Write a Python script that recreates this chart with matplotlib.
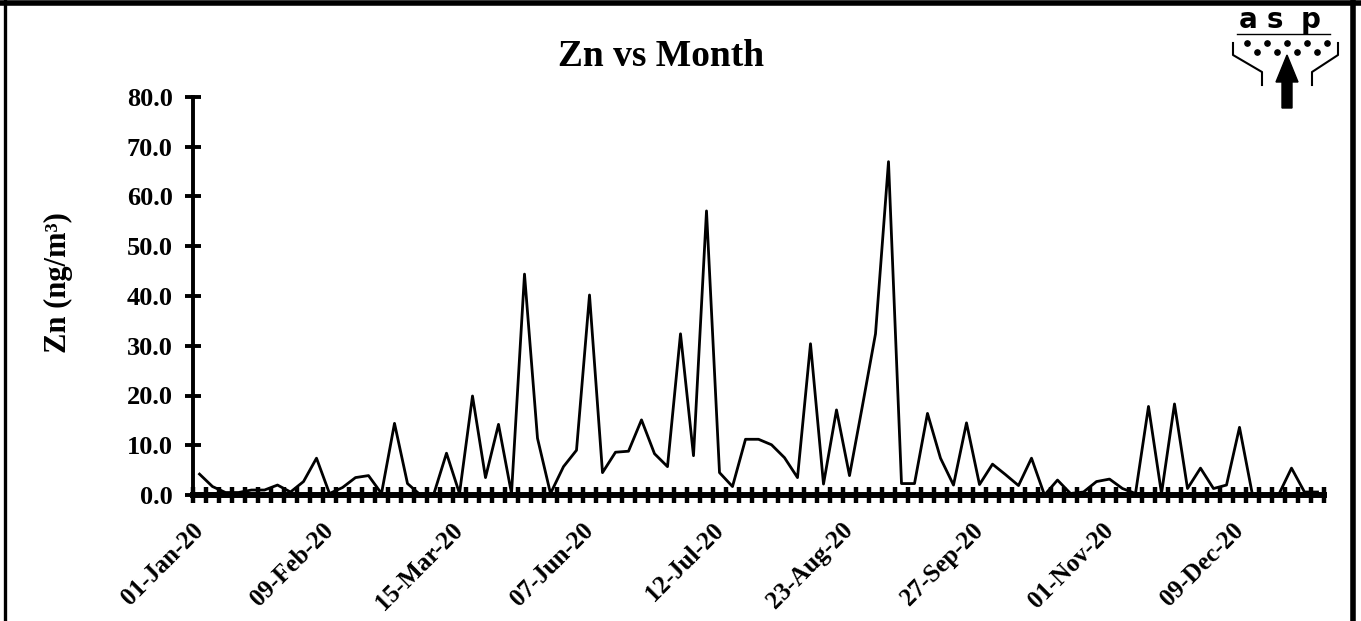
import numpy as np
import matplotlib.pyplot as plt
from matplotlib.lines import Line2D
from matplotlib.patches import Polygon

# Zn concentration (ng/m3), one value per sampling day
zn = [4.2, 1.7, 0.5, 0.5, 1.0, 1.0, 2.0, 0.6, 2.7, 7.4,
      0.3, 1.5, 3.5, 3.9, 0.3, 14.4, 2.3, 0.0, 0.0, 8.4,
      0.3, 19.9, 3.5, 14.2, 0.3, 44.4, 11.4, 0.3, 5.7, 9.0,
      40.2, 4.5, 8.6, 8.8, 15.1, 8.3, 5.7, 32.4, 7.9, 57.1,
      4.5, 1.7, 11.2, 11.2, 10.1, 7.5, 3.5, 30.4, 2.2, 17.1,
      3.9, 18.0, 32.4, 67.0, 2.3, 2.3, 16.4, 7.4, 2.0, 14.5,
      2.1, 6.2, 4.1, 1.9, 7.4, 0.0, 3.0, 0.3, 0.6, 2.7,
      3.2, 1.3, 0.3, 17.8, 0.3, 18.3, 1.3, 5.4, 1.3, 2.0,
      13.6, 0.0, 0.0, 0.0, 5.4, 0.6, 0.6]

# only every 10th sample date is labelled
date_labels = ['01-Jan-20', '09-Feb-20', '15-Mar-20', '07-Jun-20', '12-Jul-20',
               '23-Aug-20', '27-Sep-20', '01-Nov-20', '09-Dec-20']
label_step = 10
y_ticks = [0, 10, 20, 30, 40, 50, 60, 70, 80]

plt.rcParams['font.family'] = ['Liberation Serif', 'DejaVu Serif']
plt.rcParams['font.weight'] = 'bold'

W, H = 1361, 621
fig = plt.figure(figsize=(W / 100, H / 100), dpi=100)

def fx(px):
    return px / W

def fy(py):
    return 1 - py / H

ax = fig.add_axes([fx(193), fy(495), (1324 - 193) / W, (495 - 97) / H])

x = np.arange(len(zn))
ax.plot(x, zn, color='black', lw=2.0, zorder=2, clip_on=False)

ax.set_xlim(-0.5, len(zn) - 0.5)
ax.set_ylim(0, 80)
for s in ['top', 'right']:
    ax.spines[s].set_visible(False)
ax.spines['left'].set_linewidth(2.8)
ax.spines['bottom'].set_linewidth(4.3)
ax.spines['left'].set_zorder(3)
ax.spines['bottom'].set_zorder(3)

ax.set_yticks(y_ticks)
ax.set_yticklabels(['%.1f' % v for v in y_ticks])
ax.tick_params(axis='y', direction='inout', length=11, width=2.8, pad=9,
               labelsize=19, color='black')

ax.set_xticks(x[::label_step])
ax.set_xticklabels(date_labels)
ax.set_xticks(np.arange(-0.5, len(zn)), minor=True)
ax.tick_params(axis='x', which='major', length=0, pad=23, labelsize=18)
ax.tick_params(axis='x', which='minor', direction='inout', length=11.5, width=3.2)
for lab in ax.get_xticklabels():
    lab.set_rotation(45)
    lab.set_ha('right')
    lab.set_va('center')
    lab.set_rotation_mode('anchor')

fig.text(fx(661), fy(57), 'Zn vs Month', ha='center', va='center',
         fontsize=27, fontweight='bold')
fig.text(fx(58), fy(283), 'Zn (ng/m³)', ha='center', va='center',
         rotation=90, fontsize=22, fontweight='bold')

# outer frame
fig.add_artist(Line2D([fx(5), fx(5)], [fy(0), fy(H + 5)], color='black', lw=2.4))
fig.add_artist(Line2D([fx(0), fx(W)], [fy(2.5), fy(2.5)], color='black', lw=4))
fig.add_artist(Line2D([fx(1353), fx(1353)], [fy(0), fy(H + 5)], color='black', lw=4))

# asp logo
for ch, cx in zip('asp', [1248, 1275, 1311]):
    fig.text(fx(cx), fy(28), ch, ha='center', va='baseline', fontsize=20,
             fontweight='heavy', family='DejaVu Sans')
fig.add_artist(Line2D([fx(1237), fx(1330)], [fy(34), fy(34)], color='black', lw=1))
fig.add_artist(Line2D([fx(v) for v in [1247, 1267, 1287, 1307, 1327]], [fy(43)] * 5,
                      ls='none', marker='o', ms=3.8, color='black'))
fig.add_artist(Line2D([fx(v) for v in [1257, 1277, 1297, 1317]], [fy(52)] * 4,
                      ls='none', marker='o', ms=3.8, color='black'))
fig.add_artist(Line2D([fx(1233), fx(1233), fx(1262), fx(1262)],
                      [fy(43), fy(55), fy(72), fy(85)], color='black', lw=1.5))
fig.add_artist(Line2D([fx(1338), fx(1338), fx(1312), fx(1312)],
                      [fy(43), fy(55), fy(72), fy(85)], color='black', lw=1.5))
arrow = [(1287, 55), (1298, 82), (1292, 82), (1292, 108), (1282, 108),
         (1282, 82), (1276, 82)]
fig.add_artist(Polygon([(fx(a), fy(b)) for a, b in arrow], closed=True,
                       facecolor='black', edgecolor='black',
                       transform=fig.transFigure))

fig.savefig('out.png', dpi=100)
